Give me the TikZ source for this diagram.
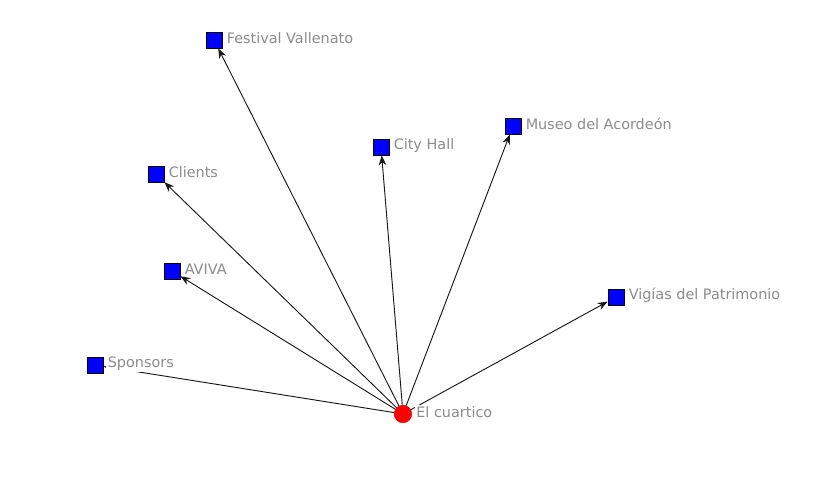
\documentclass[tikz,border=0pt]{standalone}
\usepackage{fontspec}
\setmainfont{DejaVu Sans}
\usepackage{xcolor}
\usetikzlibrary{positioning, arrows.meta}

\begin{document}
\begin{tikzpicture}[
    x=0.03cm, y=-0.03cm,
    actor/.style={rectangle, draw=black, fill=blue, minimum size=14pt, inner sep=0pt},
    ego/.style={circle, fill=red, draw=red!90!black, minimum size=15pt, inner sep=0pt},
    tag/.style={right=2pt of #1, yshift=1.5pt, fill=white, inner sep=1.5pt, text=black!45, font=\fontsize{12.3}{14}\selectfont},
    arrow/.style={-{Stealth[length=8.5pt, width=6.5pt]}, black!90, thick}
]
\useasboundingbox (0,0) rectangle (838,483);

% Nodes
\node[ego] (cuartico) at (403,414) {};
\node[actor] (festival) at (214,40) {};
\node[actor] (cityhall) at (381,147) {};
\node[actor] (museo) at (513,126) {};
\node[actor] (clients) at (156,174) {};
\node[actor] (aviva) at (172,271) {};
\node[actor] (vigias) at (616,297) {};
\node[actor] (sponsors) at (95,365) {};

% Arrows
\draw[arrow] (cuartico) -- (festival);
\draw[arrow] (cuartico) -- (cityhall);
\draw[arrow] (cuartico) -- (museo);
\draw[arrow] (cuartico) -- (clients);
\draw[arrow] (cuartico) -- (aviva);
\draw[arrow] (cuartico) -- (vigias);
\draw[arrow] (cuartico) -- (sponsors);

% Labels
\node[tag=cuartico] (cuarticolbl) {El cuartico};
\node[tag=festival] (festivallbl) {Festival Vallenato};
\node[tag=cityhall] (cityhalllbl) {City Hall};
\node[tag=museo] (museolbl) {Museo del Acordeón};
\node[tag=clients] (clientslbl) {Clients};
\node[tag=aviva] (avivalbl) {AVIVA};
\node[tag=vigias] (vigiaslbl) {Vigías del Patrimonio};
\node[tag=sponsors] (sponsorslbl) {Sponsors};

\end{tikzpicture}
\end{document}
